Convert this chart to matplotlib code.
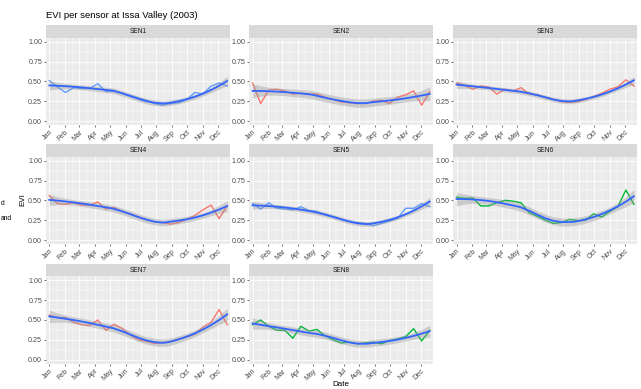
import numpy as np
import pandas as pd
import matplotlib
matplotlib.use("Agg")
import matplotlib.pyplot as plt
import matplotlib.dates as mdates

plt.rcParams["font.family"] = ["Liberation Sans", "DejaVu Sans"]

# ---- data: 16-day EVI composites for 2003 ----
dates = pd.date_range("2003-01-01", periods=23, freq="16D")

sensors = ["SEN1", "SEN2", "SEN3", "SEN4", "SEN5", "SEN6", "SEN7", "SEN8"]
habitat = ["Woodland", "Forest", "Forest", "Forest", "Woodland", "Grassland", "Forest", "Grassland"]

sen1 = [0.51, 0.43, 0.36, 0.42, 0.41, 0.41, 0.47, 0.37, 0.38, 0.35, 0.32, 0.29,
        0.26, 0.22, 0.20, 0.22, 0.23, 0.27, 0.36, 0.34, 0.44, 0.48, 0.44]
sen2 = [0.48, 0.22, 0.39, 0.40, 0.38, 0.34, 0.35, 0.34, 0.34, 0.30, 0.27, 0.24,
        0.23, 0.22, 0.22, 0.25, 0.26, 0.22, 0.30, 0.33, 0.38, 0.20, 0.37]
sen3 = [0.48, 0.45, 0.40, 0.44, 0.43, 0.34, 0.40, 0.38, 0.42, 0.34, 0.33, 0.30,
        0.27, 0.245, 0.235, 0.245, 0.27, 0.31, 0.35, 0.40, 0.43, 0.52, 0.44]
sen4 = [0.56, 0.46, 0.45, 0.47, 0.44, 0.44, 0.48, 0.39, 0.41, 0.36, 0.33, 0.29,
        0.26, 0.23, 0.22, 0.20, 0.22, 0.26, 0.31, 0.38, 0.44, 0.27, 0.43]
sen5 = [0.46, 0.39, 0.47, 0.40, 0.39, 0.38, 0.42, 0.37, 0.36, 0.315, 0.29, 0.26,
        0.235, 0.22, 0.21, 0.18, 0.21, 0.24, 0.27, 0.40, 0.40, 0.46, 0.42]
sen6 = [0.54, 0.525, 0.53, 0.43, 0.43, 0.47, 0.50, 0.49, 0.47, 0.345, 0.30, 0.25,
        0.21, 0.22, 0.26, 0.245, 0.25, 0.33, 0.29, 0.36, 0.42, 0.63, 0.45]
sen7 = [0.56, 0.53, 0.53, 0.47, 0.44, 0.43, 0.50, 0.37, 0.445, 0.395, 0.31, 0.25,
        0.23, 0.205, 0.215, 0.225, 0.26, 0.29, 0.32, 0.41, 0.47, 0.63, 0.44]
sen8 = [0.44, 0.50, 0.42, 0.37, 0.37, 0.27, 0.42, 0.36, 0.38, 0.30, 0.25, 0.21,
        0.22, 0.20, 0.21, 0.22, 0.20, 0.24, 0.26, 0.29, 0.39, 0.235, 0.37]
evi = [sen1, sen2, sen3, sen4, sen5, sen6, sen7, sen8]

habitat_colors = {"Forest": "#F8766D", "Grassland": "#00BA38", "Woodland": "#619CFF"}
y_ticks = [0.0, 0.25, 0.5, 0.75, 1.0]


# ---- local quadratic regression (loess, span 0.75) with 95% band ----
def loess_rows(x, x_eval, span=0.75):
    n = len(x)
    q = int(np.floor(n * span))
    rows = []
    for x0 in x_eval:
        d = np.abs(x - x0)
        h = np.sort(d)[q - 1]
        u = np.clip(d / h, 0, 1)
        w = (1 - u ** 3) ** 3
        X = np.column_stack([np.ones(n), (x - x0), (x - x0) ** 2])
        XtW = X.T * w
        rows.append(np.linalg.solve(XtW @ X, XtW)[0])
    return np.array(rows)


def t_quantile(p, df):
    # Cornish-Fisher expansion of the Student t quantile
    t = np.sqrt(-2 * np.log(1 - p))
    z = t - (2.515517 + 0.802853 * t + 0.010328 * t ** 2) / (
        1 + 1.432788 * t + 0.189269 * t ** 2 + 0.001308 * t ** 3)
    g1 = (z ** 3 + z) / 4
    g2 = (5 * z ** 5 + 16 * z ** 3 + 3 * z) / 96
    g3 = (3 * z ** 7 + 19 * z ** 5 + 17 * z ** 3 - 15 * z) / 384
    return z + g1 / df + g2 / df ** 2 + g3 / df ** 3


def loess_smooth(x, y, n_out=80):
    x = np.asarray(x, float)
    y = np.asarray(y, float)
    L = loess_rows(x, x)
    resid = y - L @ y
    M = np.eye(len(x)) - L
    MM = M.T @ M
    d1 = np.trace(MM)
    d2 = np.trace(MM @ MM)
    sigma = np.sqrt(np.sum(resid ** 2) / d1)
    xs = np.linspace(x.min(), x.max(), n_out)
    Ls = loess_rows(x, xs)
    fit = Ls @ y
    se = sigma * np.sqrt(np.sum(Ls ** 2, axis=1))
    tq = t_quantile(0.975, d1 ** 2 / d2)
    return xs, fit, fit - tq * se, fit + tq * se


# ---- layout in pixels ----
W, H = 641, 389
fig = plt.figure(figsize=(W / 100, H / 100), dpi=100)
fig.patch.set_facecolor("white")

col_px = [(46.0, 230.0), (249.3, 432.5), (453.3, 636.7)]
row_px = [(37.7, 125.0), (156.7, 244.0), (276.3, 363.6)]
strip_h = 12.3


def px_axes(left, top, right, bottom):
    return fig.add_axes([left / W, 1 - bottom / H, (right - left) / W, (bottom - top) / H])


day0 = dates[0]
x_days = np.asarray((dates - day0).days, float)
x_num = mdates.date2num(dates.to_pydatetime())
month_starts = pd.date_range("2003-01-01", periods=12, freq="MS")
mid_months = month_starts + pd.Timedelta(days=15)
xlim = (mdates.date2num(day0) - 6.5, mdates.date2num(day0) + 357.5)

tick_fs = 5.1
for i, (name, vals) in enumerate(zip(sensors, evi)):
    r, c = divmod(i, 3)
    (l, rr), (t, b) = col_px[c], row_px[r]
    ax = px_axes(l, t, rr, b)
    ax.set_facecolor("#EBEBEB")
    for s in ax.spines.values():
        s.set_visible(False)

    color = habitat_colors[habitat[i]]
    ax.plot(x_num, vals, color=color, lw=1.0, zorder=3, solid_joinstyle="round")

    xs, fit, lo, hi = loess_smooth(x_days, vals)
    xs_num = mdates.date2num(day0) + xs
    ax.fill_between(xs_num, lo, hi, color="#999999", alpha=0.4, lw=0, zorder=4)
    ax.plot(xs_num, fit, color="#3366FF", lw=1.3, zorder=5)

    ax.set_xlim(*xlim)
    ax.set_ylim(-0.05, 1.05)
    ax.set_yticks(y_ticks)
    ax.set_yticklabels([f"{v:.2f}" for v in y_ticks])
    ax.set_yticks([0.125, 0.375, 0.625, 0.875], minor=True)
    ax.set_xticks(mdates.date2num(month_starts.to_pydatetime()))
    ax.set_xticks(mdates.date2num(mid_months.to_pydatetime()), minor=True)
    ax.xaxis.set_major_formatter(mdates.DateFormatter("%b"))
    ax.grid(which="major", color="white", lw=0.6, zorder=0)
    ax.grid(which="minor", color="white", lw=0.3, zorder=0)
    ax.set_axisbelow(True)
    ax.tick_params(which="major", length=1.5, width=0.5, color="#333333",
                   labelsize=tick_fs, labelcolor="#4D4D4D", pad=1.2)
    ax.tick_params(which="minor", length=0)
    for lab in ax.get_xticklabels():
        lab.set_rotation(45)
        lab.set_ha("right")
        lab.set_rotation_mode("anchor")

    sax = px_axes(l, t - strip_h, rr, t)
    sax.set_facecolor("#D9D9D9")
    sax.set_xticks([])
    sax.set_yticks([])
    for s in sax.spines.values():
        s.set_visible(False)
    sax.text(0.5, 0.5, name, ha="center", va="center", fontsize=4.8,
             color="#1A1A1A", transform=sax.transAxes)

fig.text(46 / W, 1 - 15 / H, "EVI per sensor at Issa Valley (2003)", ha="left",
         va="center", fontsize=6.8, color="black")
fig.text(23 / W, 1 - 200 / H, "EVI", ha="center", va="center", rotation=90,
         fontsize=5.8, color="black")
fig.text(341 / W, 1 - 384 / H, "Date", ha="center", va="center", fontsize=5.8,
         color="black")

# tail ends of the habitat legend labels at the left edge
for lab, ypx in [("d", 203), ("and", 219)]:
    fig.text(0.3 / W, 1 - ypx / H, lab, ha="left", va="center", fontsize=4.8,
             color="black")

fig.savefig("out.png", dpi=100)
